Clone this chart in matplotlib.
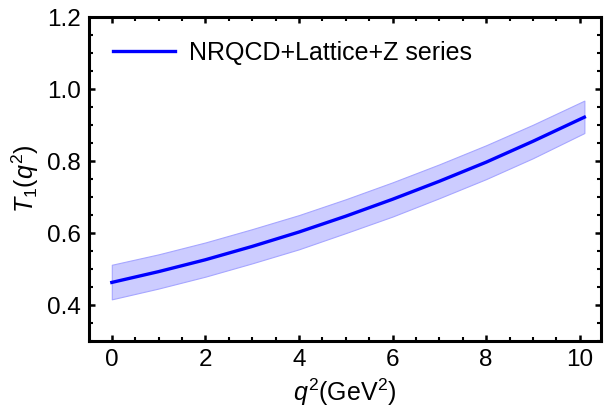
import numpy as np
import matplotlib
matplotlib.use("Agg")
from matplotlib import pyplot as plt
from matplotlib.ticker import MultipleLocator

# values
q2 = [0, 1, 2, 3, 4, 5, 6, 7, 8, 9, 10.1]
t1_central = [0.463, 0.493, 0.526, 0.563, 0.603, 0.647, 0.694, 0.744, 0.797, 0.855, 0.922]
t1_upper = [0.512, 0.541, 0.574, 0.611, 0.650, 0.694, 0.741, 0.791, 0.844, 0.901, 0.968]
t1_lower = [0.416, 0.446, 0.479, 0.516, 0.555, 0.600, 0.646, 0.697, 0.750, 0.808, 0.878]
legend_label = "NRQCD+Lattice+Z series"

plt.rcParams['font.family'] = ['Liberation Sans', 'DejaVu Sans']
plt.rcParams['mathtext.fontset'] = 'custom'
plt.rcParams['mathtext.rm'] = 'Liberation Sans'
plt.rcParams['mathtext.it'] = 'Liberation Sans:italic'

fig = plt.figure(figsize=(6.13, 4.18), dpi=100)
ax = fig.add_axes([0.145, 0.184, 0.835, 0.775])

ax.fill_between(q2, t1_lower, t1_upper, facecolor=(0.8, 0.8, 1.0),
                edgecolor=(0.65, 0.65, 1.0), linewidth=0.8)
ax.plot(q2, t1_central, color=(0, 0, 1), linewidth=2.4, label=legend_label)

ax.set_xlim(-0.49, 10.45)
ax.set_ylim(0.3, 1.2)
ax.xaxis.set_major_locator(MultipleLocator(2))
ax.xaxis.set_minor_locator(MultipleLocator(0.5))
ax.yaxis.set_minor_locator(MultipleLocator(0.05))
ax.set_yticks([0.4, 0.6, 0.8, 1.0, 1.2])
ax.set_yticklabels(["0.4", "0.6", "0.8", "1.0", "1.2"])

for s in ax.spines.values():
    s.set_linewidth(2.2)
ax.tick_params(which='both', direction='in', top=True, right=True, labelsize=17.5, pad=6)
ax.tick_params(which='major', length=4.5, width=1.8)
ax.tick_params(which='minor', length=2.8, width=1.5)

ax.set_xlabel("$q^2$(GeV$^2$)", fontsize=18, labelpad=4)
ax.set_ylabel("$T_1(q^2)$", fontsize=18, labelpad=4)

ax.legend(loc='upper left', frameon=False, fontsize=18, handlelength=2.5,
          handletextpad=0.55, borderaxespad=0.55)

fig.savefig("out.png", dpi=100)
